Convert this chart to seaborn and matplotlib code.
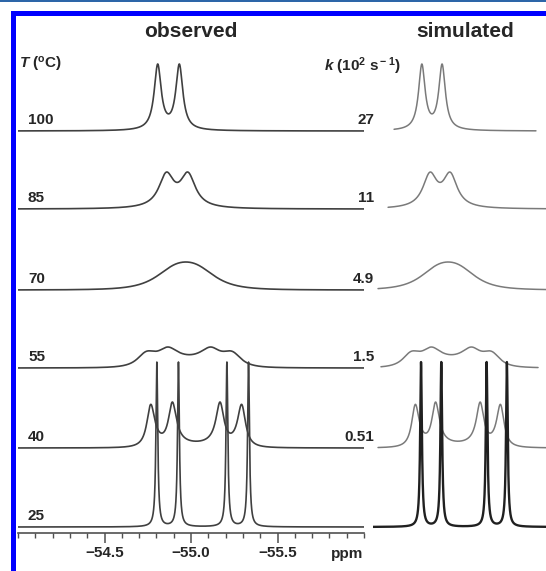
import numpy as np
import pandas as pd
import matplotlib
matplotlib.use("Agg")
import matplotlib.pyplot as plt
from matplotlib.patches import Rectangle
from matplotlib.ticker import FixedLocator, MultipleLocator
import seaborn as sns

# ---------------- data ----------------
temps_c = [100, 85, 70, 55, 40, 25]                  # T (degC) labels
k_labels = ["27", "11", "4.9", "1.5", "0.51", ""]    # k (10^2 s^-1) labels
k_values = [27.0, 11.0, 4.9, 1.5, 0.51, 0.0]         # k in 10^2 s^-1
center_ppm = [-54.87, -54.92, -54.97, -54.99, -55.03, -55.0675]  # mean shift per T
site_sep_ppm = 0.405      # separation of the two exchanging sites
j_split_ppm = 0.125       # doublet splitting
sf_mhz = 376.5            # 19F observe frequency
r2_intrinsic = 15.0       # intrinsic relaxation rate (s^-1)
sim_start_ppm = [-54.636, -54.599, -54.537, -54.555, -54.537, -54.50]
sim_end_ppm = [-55.512, -55.60, -55.60, -55.525, -55.60, -55.60]
tick_values = [-54.5, -55.0, -55.5]
tick_labels = ["\u221254.5", "\u221255.0", "\u221255.5"]

# ---------------- layout (pixels) ----------------
W, H = 546, 571
base_px = [131, 209, 290, 368, 448, 527]
peak_px = [67, 37, 28, 21, 46, 165]
AX_BOTTOM, AX_TOP = 533, 40


def fx(px):
    return px / W


def fy(py):
    return 1 - py / H


def exchange_spectrum(ppm, center, k_rate):
    total = np.zeros_like(ppm)
    w = 2 * np.pi * sf_mhz * ppm
    for m in (j_split_ppm / 2, -j_split_ppm / 2):
        w1 = 2 * np.pi * sf_mhz * (center + site_sep_ppm / 2 + m)
        w2 = 2 * np.pi * sf_mhz * (center - site_sep_ppm / 2 + m)
        a = 1j * (w - w1) + r2_intrinsic + k_rate
        d = 1j * (w - w2) + r2_intrinsic + k_rate
        total += np.real(0.5 * (a + d + 2 * k_rate) / (a * d - k_rate ** 2))
    return total


grid = np.linspace(-54.0, -56.0, 6000)
obs_rows, sim_rows = [], []
for i, t in enumerate(temps_c):
    s = exchange_spectrum(grid, center_ppm[i], k_values[i] * 100.0)
    y = (AX_BOTTOM - base_px[i]) + peak_px[i] * s / s.max()
    obs_rows.append(pd.DataFrame({"ppm": grid, "y": y, "T": t}))
    mask = (grid <= sim_start_ppm[i]) & (grid >= sim_end_ppm[i])
    sim_rows.append(pd.DataFrame({"ppm": grid[mask], "y": y[mask], "T": t}))
obs = pd.concat(obs_rows, ignore_index=True)
sim = pd.concat(sim_rows, ignore_index=True)

sns.set_style("white")
plt.rcParams["font.family"] = ["Liberation Sans", "DejaVu Sans"]
plt.rcParams["mathtext.fontset"] = "custom"
plt.rcParams["mathtext.rm"] = "Liberation Sans:bold"
plt.rcParams["mathtext.it"] = "Liberation Sans:italic:bold"
plt.rcParams["mathtext.bf"] = "Liberation Sans:bold"

fig = plt.figure(figsize=(W / 100, H / 100), dpi=100)
fig.patch.set_facecolor("white")

axL = fig.add_axes([fx(18), fy(AX_BOTTOM), (364 - 18) / W, (AX_BOTTOM - AX_TOP) / H])
axR = fig.add_axes([fx(373), fy(AX_BOTTOM), (546 - 373) / W, (AX_BOTTOM - AX_TOP) / H])

sns.lineplot(data=obs, x="ppm", y="T" if False else "y", units="T", estimator=None,
             color="#404040", lw=1.2, ax=axL, legend=False, sort=False)
sim_gray = sim[sim["T"] != 25]
sim_black = sim[sim["T"] == 25]
sns.lineplot(data=sim_gray, x="ppm", y="y", units="T", estimator=None,
             color="#7a7a7a", lw=1.1, ax=axR, legend=False, sort=False)
sns.lineplot(data=sim_black, x="ppm", y="y", units="T", estimator=None,
             color="#202020", lw=1.7, ax=axR, legend=False, sort=False)

for ax in (axL, axR):
    ax.set_ylim(0, AX_BOTTOM - AX_TOP)
    ax.set_xlabel("")
    ax.set_ylabel("")
    ax.set_facecolor("none")

axL.set_xlim(-54.0, -56.0)
axR.set_xlim(-54.506, -55.574)
axR.axis("off")

for side in ("left", "right", "top"):
    axL.spines[side].set_visible(False)
axL.spines["bottom"].set_color("#505050")
axL.spines["bottom"].set_linewidth(1.2)
axL.set_yticks([])
axL.xaxis.set_major_locator(FixedLocator(tick_values))
axL.set_xticklabels(tick_labels, fontsize=11, fontweight="bold")
axL.xaxis.set_minor_locator(MultipleLocator(0.1))
axL.tick_params(axis="x", which="major", direction="out", length=7.2, width=1.1,
                color="#505050", pad=2.5, bottom=True)
axL.tick_params(axis="x", which="minor", direction="out", length=3.6, width=1.0,
                color="#505050", bottom=True)

# texts
fig.text(fx(191), fy(37), "observed", ha="center", va="baseline", fontsize=15, fontweight="bold")
fig.text(fx(465), fy(37), "simulated", ha="center", va="baseline", fontsize=15, fontweight="bold")
fig.text(fx(19), fy(69), r"$T$ ($^{\rm o}$C)", ha="left", va="baseline", fontsize=11, fontweight="bold")
fig.text(fx(324), fy(71), r"$k$ (10$^{\rm 2}$ s$^{\rm -1}$)", ha="left", va="baseline",
         fontsize=11, fontweight="bold")
fig.text(fx(363), fy(558), "ppm", ha="right", va="baseline", fontsize=11, fontweight="bold")
for i, t in enumerate(temps_c):
    fig.text(fx(28), fy(base_px[i] - 7), str(t), ha="left", va="baseline",
             fontsize=11, fontweight="bold")
    if k_labels[i]:
        fig.text(fx(374), fy(base_px[i] - 7), k_labels[i], ha="right", va="baseline",
                 fontsize=11, fontweight="bold")

# page frame
fig.add_artist(Rectangle((0, fy(2)), 1, 2 / H, transform=fig.transFigure,
                         color="#2d66a8", lw=0))
fig.add_artist(Rectangle((fx(11), 0), 5 / W, (H - 11) / H, transform=fig.transFigure,
                         color="#0000ff", lw=0))
fig.add_artist(Rectangle((fx(11), fy(16)), (W - 11) / W, 5 / H, transform=fig.transFigure,
                         color="#0000ff", lw=0))

fig.savefig("out.png", dpi=100)
